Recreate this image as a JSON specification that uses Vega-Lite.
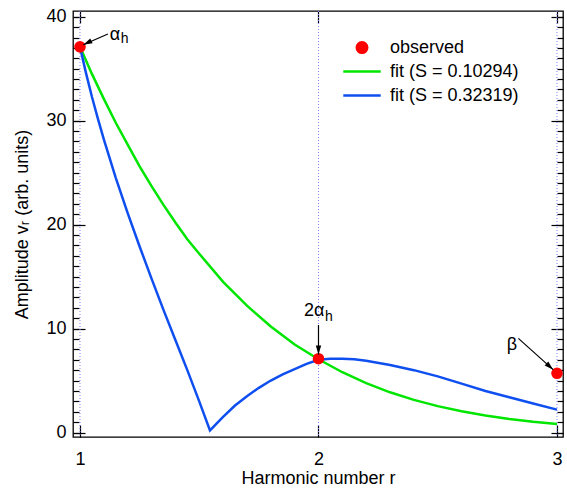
{
  "$schema": "https://vega.github.io/schema/vega-lite/v6.json",
  "width": 490,
  "height": 426,
  "autosize": {"type": "none"},
  "padding": {"left": 73, "top": 11, "right": 4, "bottom": 52},
  "config": {
    "font": "Liberation Sans",
    "view": {"stroke": "#000", "strokeWidth": 1.3},
    "axis": {
      "grid": false,
      "domain": false,
      "tickColor": "#000",
      "tickWidth": 1.2,
      "labelColor": "#000",
      "labelFontSize": 18,
      "labelFlush": false,
      "labelOverlap": false,
      "titleFontSize": 18,
      "titleFontWeight": "normal",
      "titleColor": "#000"
    }
  },
  "datasets": {
    "curves": [
      {"series": "fit (S = 0.10294)", "r": 1.0, "v": 37.1},
      {"series": "fit (S = 0.10294)", "r": 1.05, "v": 34.5},
      {"series": "fit (S = 0.10294)", "r": 1.1, "v": 32.1},
      {"series": "fit (S = 0.10294)", "r": 1.15, "v": 29.8},
      {"series": "fit (S = 0.10294)", "r": 1.2, "v": 27.7},
      {"series": "fit (S = 0.10294)", "r": 1.25, "v": 25.6},
      {"series": "fit (S = 0.10294)", "r": 1.3, "v": 23.7},
      {"series": "fit (S = 0.10294)", "r": 1.35, "v": 21.9},
      {"series": "fit (S = 0.10294)", "r": 1.4, "v": 20.2},
      {"series": "fit (S = 0.10294)", "r": 1.45, "v": 18.6},
      {"series": "fit (S = 0.10294)", "r": 1.5, "v": 17.2},
      {"series": "fit (S = 0.10294)", "r": 1.6, "v": 14.5},
      {"series": "fit (S = 0.10294)", "r": 1.7, "v": 12.2},
      {"series": "fit (S = 0.10294)", "r": 1.8, "v": 10.2},
      {"series": "fit (S = 0.10294)", "r": 1.9, "v": 8.46},
      {"series": "fit (S = 0.10294)", "r": 2.0, "v": 7.05},
      {"series": "fit (S = 0.10294)", "r": 2.1, "v": 5.8},
      {"series": "fit (S = 0.10294)", "r": 2.2, "v": 4.75},
      {"series": "fit (S = 0.10294)", "r": 2.3, "v": 3.87},
      {"series": "fit (S = 0.10294)", "r": 2.4, "v": 3.14},
      {"series": "fit (S = 0.10294)", "r": 2.5, "v": 2.54},
      {"series": "fit (S = 0.10294)", "r": 2.6, "v": 2.04},
      {"series": "fit (S = 0.10294)", "r": 2.7, "v": 1.63},
      {"series": "fit (S = 0.10294)", "r": 2.8, "v": 1.3},
      {"series": "fit (S = 0.10294)", "r": 2.9, "v": 1.03},
      {"series": "fit (S = 0.10294)", "r": 3.0, "v": 0.82},
      {"series": "fit (S = 0.32319)", "r": 1.0, "v": 37.1},
      {"series": "fit (S = 0.32319)", "r": 1.025, "v": 34.6},
      {"series": "fit (S = 0.32319)", "r": 1.05, "v": 32.3},
      {"series": "fit (S = 0.32319)", "r": 1.075, "v": 30.2},
      {"series": "fit (S = 0.32319)", "r": 1.1, "v": 28.2},
      {"series": "fit (S = 0.32319)", "r": 1.15, "v": 24.5},
      {"series": "fit (S = 0.32319)", "r": 1.2, "v": 21.1},
      {"series": "fit (S = 0.32319)", "r": 1.25, "v": 17.9},
      {"series": "fit (S = 0.32319)", "r": 1.3, "v": 14.8},
      {"series": "fit (S = 0.32319)", "r": 1.35, "v": 11.8},
      {"series": "fit (S = 0.32319)", "r": 1.4, "v": 8.9},
      {"series": "fit (S = 0.32319)", "r": 1.45, "v": 6.0},
      {"series": "fit (S = 0.32319)", "r": 1.5, "v": 3.0},
      {"series": "fit (S = 0.32319)", "r": 1.545, "v": 0.2},
      {"series": "fit (S = 0.32319)", "r": 1.6, "v": 1.5},
      {"series": "fit (S = 0.32319)", "r": 1.65, "v": 2.6},
      {"series": "fit (S = 0.32319)", "r": 1.7, "v": 3.5},
      {"series": "fit (S = 0.32319)", "r": 1.75, "v": 4.3},
      {"series": "fit (S = 0.32319)", "r": 1.8, "v": 5.0},
      {"series": "fit (S = 0.32319)", "r": 1.85, "v": 5.6},
      {"series": "fit (S = 0.32319)", "r": 1.9, "v": 6.1},
      {"series": "fit (S = 0.32319)", "r": 1.95, "v": 6.6},
      {"series": "fit (S = 0.32319)", "r": 2.0, "v": 7.0},
      {"series": "fit (S = 0.32319)", "r": 2.05, "v": 7.1},
      {"series": "fit (S = 0.32319)", "r": 2.1, "v": 7.1},
      {"series": "fit (S = 0.32319)", "r": 2.15, "v": 7.05},
      {"series": "fit (S = 0.32319)", "r": 2.2, "v": 6.9},
      {"series": "fit (S = 0.32319)", "r": 2.3, "v": 6.5},
      {"series": "fit (S = 0.32319)", "r": 2.4, "v": 6.0},
      {"series": "fit (S = 0.32319)", "r": 2.5, "v": 5.4},
      {"series": "fit (S = 0.32319)", "r": 2.6, "v": 4.7},
      {"series": "fit (S = 0.32319)", "r": 2.7, "v": 4.0},
      {"series": "fit (S = 0.32319)", "r": 2.8, "v": 3.4},
      {"series": "fit (S = 0.32319)", "r": 2.9, "v": 2.8},
      {"series": "fit (S = 0.32319)", "r": 3.0, "v": 2.2}
    ],
    "observed": [
      {"series": "observed", "r": 1, "v": 37.1},
      {"series": "observed", "r": 2, "v": 7.1},
      {"series": "observed", "r": 3, "v": 5.7}
    ],
    "harmonics": [{"r": 1}, {"r": 2}, {"r": 3}],
    "arrows": [
      {"id": "alpha", "x0": 1.117, "y0": 38.34, "x1": 1.014, "y1": 37.3},
      {"id": "twoalpha", "x0": 2.0, "y0": 10.34, "x1": 2.0, "y1": 7.5},
      {"id": "beta", "x0": 2.838, "y0": 9.06, "x1": 2.984, "y1": 6.05}
    ],
    "notes": [
      {"part": "main", "t": "α", "r": 1.147, "v": 38.24},
      {"part": "sub", "t": "h", "r": 1.187, "v": 37.86},
      {"part": "main", "t": "2α", "r": 1.982, "v": 11.71},
      {"part": "sub", "t": "h", "r": 2.044, "v": 11.1},
      {"part": "main", "t": "β", "r": 2.811, "v": 8.42}
    ]
  },
  "resolve": {"axis": {"x": "independent", "y": "independent"}},
  "layer": [
    {
      "data": {"name": "harmonics"},
      "mark": {"type": "rule", "color": "#8080ff", "strokeWidth": 1, "strokeDash": [1, 2]},
      "encoding": {
        "x": {
          "field": "r", "type": "quantitative",
          "scale": {"domain": [0.9707, 3.0252], "nice": false, "zero": false},
          "axis": {"orient": "top", "values": [1, 2, 3], "tickCount": 10, "labels": false, "tickSize": -12, "title": null}
        }
      }
    },
    {
      "data": {"name": "curves"},
      "transform": [{"filter": "datum.series === 'fit (S = 0.10294)'"}],
      "mark": {"type": "line", "strokeWidth": 2.5},
      "encoding": {
        "x": {
          "field": "r", "type": "quantitative",
          "scale": {"domain": [0.9707, 3.0252], "nice": false, "zero": false},
          "axis": {
            "orient": "bottom", "values": [1, 2, 3], "tickCount": 10,
            "labelExpr": "'' + round(datum.value)",
            "tickSize": -12, "labelPadding": 25, "labelOverlap": false,
            "title": "Harmonic number r", "titlePadding": 1
          }
        },
        "y": {
          "field": "v", "type": "quantitative",
          "scale": {"domain": [-0.43, 40.55], "nice": false, "zero": false},
          "axis": {
            "orient": "left", "values": [0, 10, 20, 30, 40], "tickCount": 10,
            "tickSize": -12, "labelPadding": 19,
            "title": "Amplitude vᵣ (arb. units)", "titlePadding": 14
          }
        },
        "color": {
          "field": "series", "type": "nominal",
          "scale": {
            "domain": ["observed", "fit (S = 0.10294)", "fit (S = 0.32319)"],
            "range": ["#ff0000", "#00e600", "#0f4ff0"]
          },
          "legend": {
            "title": null,
            "orient": "none",
            "legendX": 269,
            "legendY": 25,
            "padding": 0,
            "symbolType": "stroke",
            "symbolSize": 1400,
            "symbolStrokeWidth": 2.5,
            "clipHeight": 23.2,
            "rowPadding": 0,
            "labelFontSize": 18,
            "labelColor": "#000",
            "labelOffset": 8,
            "encode": {
              "symbols": {
                "update": {
                  "shape": {"signal": "datum.value === 'observed' ? 'M-0.28,0A0.28,0.28,0,1,1,0.28,0A0.28,0.28,0,1,1,-0.28,0Z' : 'stroke'"},
                  "fill": {"signal": "datum.value === 'observed' ? '#ff0000' : 'transparent'"},
                  "stroke": {"scale": "color", "field": "value"},
                  "strokeWidth": {"value": 2.5},
                  "opacity": {"value": 1}
                }
              }
            }
          }
        }
      }
    },
    {
      "data": {"name": "curves"},
      "transform": [{"filter": "datum.series === 'fit (S = 0.32319)'"}],
      "mark": {"type": "line", "strokeWidth": 2.5},
      "encoding": {
        "x": {"field": "r", "type": "quantitative", "axis": null},
        "y": {
          "field": "v", "type": "quantitative",
          "axis": {"orient": "right", "values": [0, 10, 20, 30, 40], "tickCount": 10, "labels": false, "tickSize": -12, "title": null}
        },
        "color": {"field": "series", "type": "nominal"}
      }
    },
    {
      "data": {"name": "observed"},
      "mark": {"type": "circle", "size": 135, "opacity": 1},
      "encoding": {
        "x": {"field": "r", "type": "quantitative", "axis": null},
        "y": {
          "field": "v", "type": "quantitative",
          "axis": {
            "orient": "left", "labels": false, "tickSize": -6, "title": null, "tickCount": 60,
            "values": [0,1,2,3,4,5,6,7,8,9,10,11,12,13,14,15,16,17,18,19,20,21,22,23,24,25,26,27,28,29,30,31,32,33,34,35,36,37,38,39,40]
          }
        },
        "color": {"field": "series", "type": "nominal"}
      }
    },
    {
      "data": {"name": "arrows"},
      "mark": {"type": "rule", "color": "#000", "strokeWidth": 1.2},
      "encoding": {
        "x": {"field": "x0", "type": "quantitative", "axis": null},
        "y": {
          "field": "y0", "type": "quantitative",
          "axis": {
            "orient": "right", "labels": false, "tickSize": -6, "title": null, "tickCount": 60,
            "values": [0,1,2,3,4,5,6,7,8,9,10,11,12,13,14,15,16,17,18,19,20,21,22,23,24,25,26,27,28,29,30,31,32,33,34,35,36,37,38,39,40]
          }
        },
        "x2": {"field": "x1"},
        "y2": {"field": "y1"}
      }
    },
    {
      "data": {"name": "arrows"},
      "transform": [{"filter": "datum.id === 'alpha'"}],
      "mark": {"type": "point", "shape": "M0,0L-0.6,2L0.6,2Z", "filled": true, "color": "#000", "opacity": 1, "size": 81, "angle": 244},
      "encoding": {
        "x": {"field": "x1", "type": "quantitative", "axis": null},
        "y": {"field": "y1", "type": "quantitative", "axis": null}
      }
    },
    {
      "data": {"name": "arrows"},
      "transform": [{"filter": "datum.id === 'twoalpha'"}],
      "mark": {"type": "point", "shape": "M0,0L-0.6,2L0.6,2Z", "filled": true, "color": "#000", "opacity": 1, "size": 81, "angle": 180},
      "encoding": {
        "x": {"field": "x1", "type": "quantitative", "axis": null},
        "y": {"field": "y1", "type": "quantitative", "axis": null}
      }
    },
    {
      "data": {"name": "arrows"},
      "transform": [{"filter": "datum.id === 'beta'"}],
      "mark": {"type": "point", "shape": "M0,0L-0.6,2L0.6,2Z", "filled": true, "color": "#000", "opacity": 1, "size": 81, "angle": 132},
      "encoding": {
        "x": {"field": "x1", "type": "quantitative", "axis": null},
        "y": {"field": "y1", "type": "quantitative", "axis": null}
      }
    },
    {
      "data": {"name": "notes"},
      "transform": [{"filter": "datum.part === 'main'"}],
      "mark": {"type": "text", "fontSize": 18, "color": "#000", "align": "center", "baseline": "middle"},
      "encoding": {
        "x": {"field": "r", "type": "quantitative", "axis": null},
        "y": {"field": "v", "type": "quantitative", "axis": null},
        "text": {"field": "t"}
      }
    },
    {
      "data": {"name": "notes"},
      "transform": [{"filter": "datum.part === 'sub'"}],
      "mark": {"type": "text", "fontSize": 14, "color": "#000", "align": "center", "baseline": "middle"},
      "encoding": {
        "x": {"field": "r", "type": "quantitative", "axis": null},
        "y": {"field": "v", "type": "quantitative", "axis": null},
        "text": {"field": "t"}
      }
    }
  ]
}
